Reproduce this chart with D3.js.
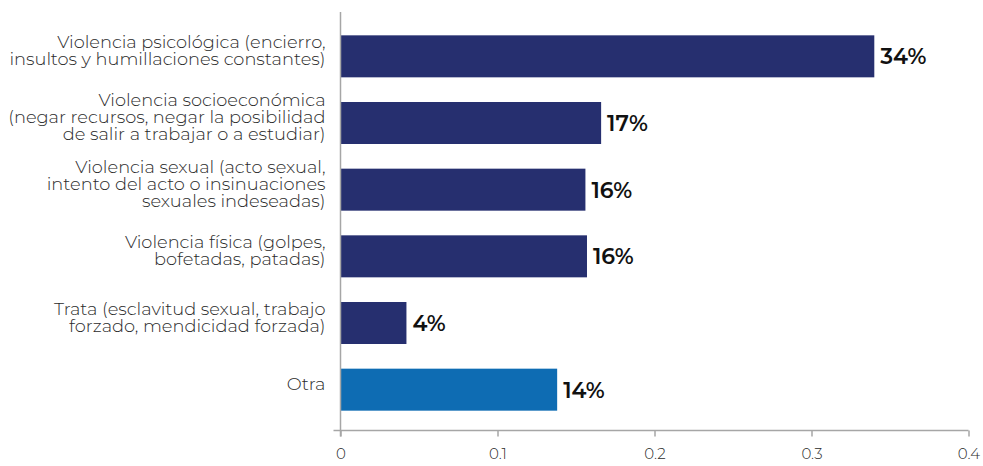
<!DOCTYPE html>
<html>
<head>
<meta charset="utf-8">
<script src="https://cdn.jsdelivr.net/npm/d3@7"></script>
<style>
  html, body { margin: 0; padding: 0; background: #fff; }
  svg { display: block; font-family: Montserrat, "Open Sans", sans-serif; }
</style>
</head>
<body>
<svg id="chart" width="983" height="466"></svg>
<script>
// Categories (each entry is the list of wrapped lines of the label)
const categories = [
  ["Violencia psicológica (encierro,", "insultos y humillaciones constantes)"],
  ["Violencia socioeconómica", "(negar recursos, negar la posibilidad", "de salir a trabajar o a estudiar)"],
  ["Violencia sexual (acto sexual,", "intento del acto o insinuaciones", "sexuales indeseadas)"],
  ["Violencia física (golpes,", "bofetadas, patadas)"],
  ["Trata (esclavitud sexual, trabajo", "forzado, mendicidad forzada)"],
  ["Otra"]
];
// Share of responses per category
const values = [0.34, 0.166, 0.156, 0.157, 0.042, 0.138];
// Tick values of the horizontal axis
const ticks = [0, 0.1, 0.2, 0.3, 0.4];

const barColor = "#262f6f";
const otherColor = "#0e6cb3";
const axisColor = "#a6a6a6";
const textColor = "#2b2b2b";

const svg = d3.select("#chart");
const x0 = 340.5, x1 = 968.5;
const x = d3.scaleLinear().domain([0, 0.4]).range([x0, x1]);
const y = d3.scaleBand()
  .domain(d3.range(categories.length))
  .range([23, 423])
  .paddingInner(0.37)
  .paddingOuter(0.185);

const axisY = 430.5;

// Bars
svg.append("g").selectAll("rect")
  .data(values)
  .join("rect")
  .attr("x", x(0))
  .attr("y", (d, i) => y(i))
  .attr("width", d => x(d) - x(0))
  .attr("height", y.bandwidth())
  .attr("fill", (d, i) => i === categories.length - 1 ? otherColor : barColor);

// Value labels
svg.append("g").selectAll("text")
  .data(values)
  .join("text")
  .attr("x", d => x(d) + 6)
  .attr("y", (d, i) => y(i) + y.bandwidth() / 2)
  .attr("dy", "0.36em")
  .attr("font-size", 22)
  .attr("font-weight", 600)
  .attr("fill", "#111")
  .text(d => Math.round(d * 100) + "%");

// Category labels, centred on their bars
const lineH = 17;
const labels = svg.append("g").selectAll("text")
  .data(categories)
  .join("text")
  .attr("x", x0 - 15)
  .attr("text-anchor", "end")
  .attr("font-size", 17.8)
  .attr("font-weight", 300)
  .attr("fill", textColor)
  .attr("y", (d, i) => y(i) + y.bandwidth() / 2 - (d.length - 1) * lineH / 2)
  .attr("dy", "0.35em");
labels.each(function(lines) {
  const t = d3.select(this);
  const bx = t.attr("x");
  lines.forEach((ln, k) => {
    t.append("tspan").attr("x", bx).attr("dy", k === 0 ? 0 : lineH).text(ln);
  });
});

// Horizontal axis
const xAxis = svg.append("g")
  .attr("transform", `translate(0,${axisY})`)
  .call(d3.axisBottom(x).tickValues(ticks).tickSize(6).tickSizeOuter(0)
    .tickFormat(d => d === 0 ? "0" : d3.format(".1f")(d)));
xAxis.select(".domain").remove();
xAxis.append("line")
  .attr("x1", x0 - 7).attr("x2", x1)
  .attr("stroke", axisColor).attr("stroke-width", 1.5);
xAxis.selectAll(".tick line").attr("stroke", axisColor).attr("stroke-width", 1.5);
xAxis.selectAll(".tick text")
  .attr("font-size", 15)
  .attr("font-weight", 300)
  .attr("font-family", "Montserrat, 'Open Sans', sans-serif")
  .attr("fill", textColor)
  .attr("y", 18);

// Vertical axis line
svg.append("line")
  .attr("x1", x0).attr("x2", x0)
  .attr("y1", 12).attr("y2", axisY + 6)
  .attr("stroke", axisColor).attr("stroke-width", 1.5);
</script>
</body>
</html>
